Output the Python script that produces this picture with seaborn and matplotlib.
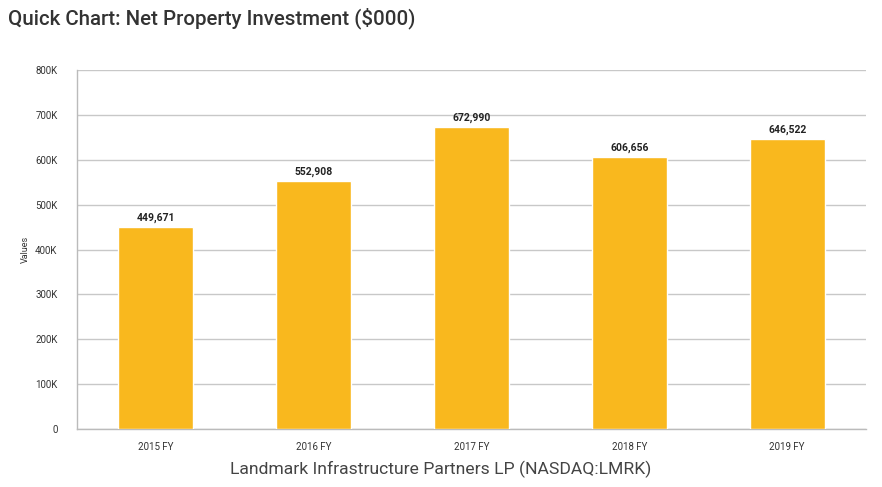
import matplotlib
matplotlib.use("Agg")
import matplotlib.pyplot as plt
import seaborn as sns
import pandas as pd

# Données
years = ["2015 FY", "2016 FY", "2017 FY", "2018 FY", "2019 FY"]
values = [449671, 552908, 672990, 606656, 646522]

df = pd.DataFrame({"year": years, "value": values})

sns.set_style("white")
plt.rcParams["font.family"] = ["Roboto", "DejaVu Sans"]

fig = plt.figure(figsize=(8.82, 4.87), dpi=100)
ax = fig.add_axes([0.0873, 0.119, 0.8947, 0.737])

sns.barplot(data=df, x="year", y="value", color="#F9B81E", saturation=1,
            width=0.475, ax=ax, zorder=3)

ax.set_ylim(0, 800000)
ax.set_xlim(-0.5, 4.5)
ax.set_yticks(range(0, 800001, 100000))
ax.set_yticklabels(["0"] + [f"{v // 1000}K" for v in range(100000, 800001, 100000)])
ax.yaxis.grid(True, color="#c8c8c8", linewidth=1, zorder=0)
ax.tick_params(axis="y", length=0, labelsize=7, colors="#333333", pad=14)

# ticks x entre les catégories
ax.set_xticks([i - 0.5 for i in range(6)], minor=False)
ax.set_xticklabels([])
ax.set_xticks(range(5), minor=True)
ax.set_xticklabels(years, minor=True)
ax.tick_params(axis="x", which="major", length=5, color="#bbbbbb", width=1)
ax.tick_params(axis="x", which="minor", length=0, labelsize=7, colors="#333333", pad=9)

for s in ["top", "right"]:
    ax.spines[s].set_visible(False)
for s in ["left", "bottom"]:
    ax.spines[s].set_color("#bbbbbb")
    ax.spines[s].set_linewidth(1)

ax.set_xlabel("")
ax.set_ylabel("Values", fontsize=6.5, color="#333333", labelpad=4)

# étiquettes des barres
for i, v in enumerate(values):
    ax.text(i, v + 9000, f"{v:,}", ha="center", va="bottom", fontsize=7.5,
            fontweight="bold", color="#222222")

fig.text(0.009, 0.963, "Quick Chart: Net Property Investment ($000)", fontsize=14.8,
         fontweight="medium", color="#333333", ha="left", va="center")
fig.text(0.5, 0.036, "Landmark Infrastructure Partners LP (NASDAQ:LMRK)", fontsize=12.6,
         color="#444444", ha="center", va="center")

fig.savefig("out.png", dpi=100)
